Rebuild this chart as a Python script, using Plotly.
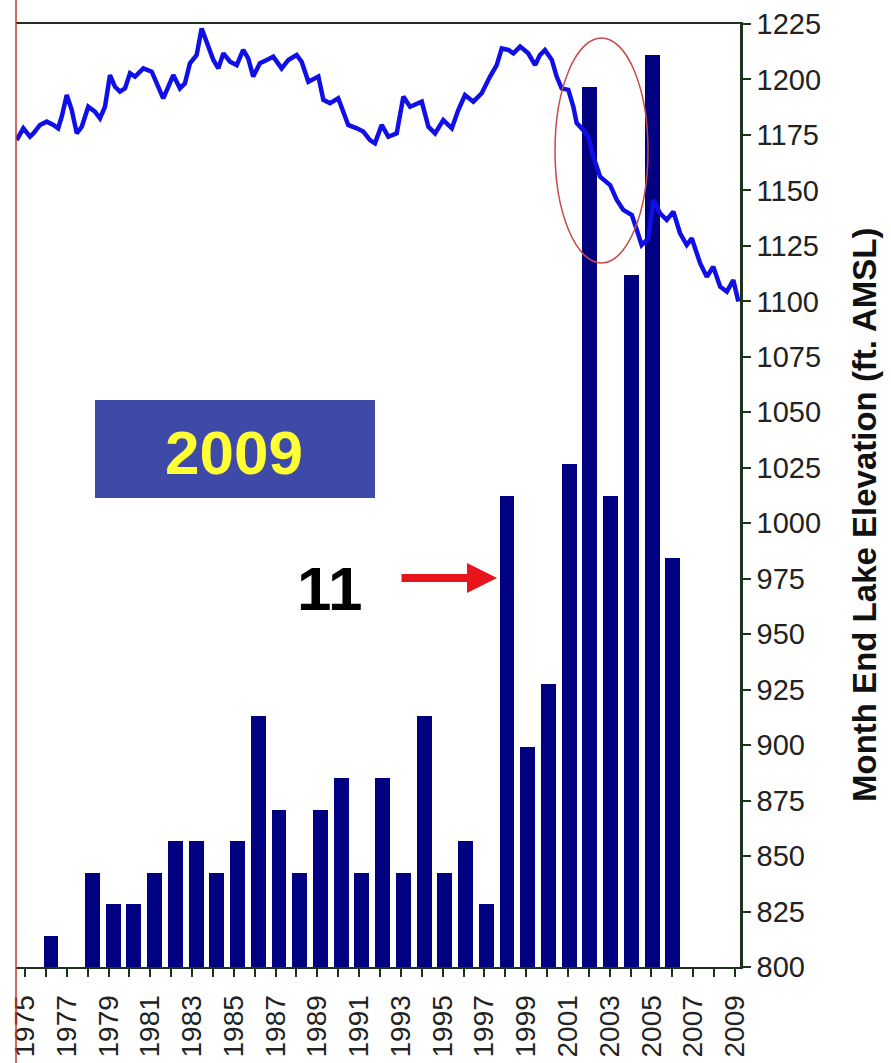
import plotly.graph_objects as go

# ---------------- data ----------------
bar_years = list(range(1975, 2007))
bar_counts = [0, 1, 0, 3, 2, 2, 3, 4, 4, 3, 4, 8, 5, 3, 5, 6,
              3, 6, 3, 8, 3, 4, 2, 15, 7, 9, 16, 28, 15, 22, 29, 13]

line_years = [1974.60, 1974.92, 1975.24, 1975.40, 1975.72, 1976.04, 1976.36, 1976.59,
              1976.76, 1977.00, 1977.24, 1977.48, 1977.72, 1978.03, 1978.35, 1978.59,
              1978.83, 1979.07, 1979.31, 1979.55, 1979.79, 1980.03, 1980.27, 1980.67,
              1981.07, 1981.31, 1981.62, 1981.86, 1982.10, 1982.42, 1982.66, 1982.90,
              1983.22, 1983.46, 1983.70, 1984.02, 1984.26, 1984.50, 1984.82, 1985.14,
              1985.45, 1985.69, 1985.93, 1986.25, 1986.58, 1986.89, 1987.29, 1987.61,
              1988.01, 1988.25, 1988.57, 1988.89, 1989.05, 1989.29, 1989.61, 1990.00,
              1990.24, 1990.48, 1990.89, 1991.20, 1991.52, 1991.76, 1992.08, 1992.40,
              1992.80, 1993.12, 1993.44, 1994.00, 1994.32, 1994.64, 1995.03, 1995.11,
              1995.44, 1995.75, 1996.07, 1996.47, 1996.87, 1997.27, 1997.59, 1997.83,
              1998.15, 1998.39, 1998.71, 1999.10, 1999.43, 1999.66, 1999.90, 2000.23,
              2000.46, 2000.70, 2001.02, 2001.26, 2001.42, 2001.74, 2001.98, 2002.22,
              2002.54, 2003.02, 2003.34, 2003.65, 2004.06, 2004.30, 2004.53, 2004.85,
              2005.09, 2005.41, 2005.73, 2006.05, 2006.37, 2006.69, 2006.93, 2007.33,
              2007.65, 2007.96, 2008.29, 2008.61, 2008.92, 2009.16]
line_elev = [1172.7, 1178.0, 1174.2, 1175.7, 1179.5, 1181.0, 1179.5, 1178.0,
             1183.2, 1193.0, 1186.2, 1175.7, 1178.7, 1187.7, 1185.5, 1182.5,
             1187.7, 1202.0, 1196.7, 1194.5, 1196.0, 1202.8, 1201.3, 1205.0,
             1203.5, 1198.3, 1191.5, 1196.7, 1202.0, 1196.0, 1198.3, 1207.3,
             1211.0, 1223.0, 1217.0, 1208.8, 1205.0, 1211.8, 1208.0, 1206.5,
             1213.3, 1209.5, 1201.3, 1207.3, 1208.8, 1210.3, 1205.0, 1208.8,
             1211.0, 1208.0, 1199.0, 1200.5, 1201.3, 1190.8, 1189.3, 1191.5,
             1185.5, 1179.5, 1178.0, 1176.5, 1172.7, 1171.2, 1179.5, 1174.2,
             1175.7, 1192.3, 1187.7, 1190.0, 1178.7, 1175.7, 1181.7, 1181.0,
             1178.0, 1186.2, 1193.0, 1190.0, 1193.8, 1201.3, 1206.5, 1214.0,
             1213.3, 1211.8, 1214.8, 1211.8, 1206.5, 1211.0, 1213.3, 1208.8,
             1201.3, 1196.0, 1195.3, 1187.7, 1180.3, 1177.2, 1174.2, 1165.2,
             1156.2, 1152.4, 1145.7, 1141.2, 1138.9, 1132.2, 1125.4, 1128.4,
             1145.7, 1139.7, 1136.7, 1140.4, 1130.7, 1125.4, 1128.4, 1117.2,
             1111.1, 1115.6, 1106.6, 1104.4, 1109.6, 1099.9]

axis_years = list(range(1975, 2010))
axis_labels = [str(y) if y % 2 == 1 else "" for y in axis_years]
elev_ticks = list(range(800, 1226, 25))

FONT = "Liberation Sans, Arial, sans-serif"
AXC = "#1c331c"

fig = go.Figure()
fig.add_trace(go.Bar(x=bar_years, y=bar_counts, xaxis="x", yaxis="y",
                     marker=dict(color="#000080", line=dict(width=0)),
                     width=0.72, showlegend=False))
fig.add_trace(go.Scatter(x=line_years, y=line_elev, xaxis="x2", yaxis="y2",
                         mode="lines", line=dict(color="#1010e6", width=4.5),
                         showlegend=False))

fig.update_layout(
    width=891, height=1063,
    margin=dict(l=16, r=151, t=24, b=96, autoexpand=False),
    paper_bgcolor="white", plot_bgcolor="white",
    font=dict(family=FONT, color="#222222"),
    bargap=0,
    xaxis=dict(range=[1974.31, 2009.24], visible=False, fixedrange=True),
    yaxis=dict(range=[0, 30], visible=False, fixedrange=True),
    xaxis2=dict(overlaying="x", anchor="y2", side="bottom",
                range=[1974.57, 2009.24], tickvals=axis_years, ticktext=axis_labels,
                tickangle=-90, ticks="outside", ticklen=8, tickwidth=1.5,
                tickcolor=AXC, showline=True, linecolor=AXC, linewidth=2,
                mirror=True, showgrid=False, zeroline=False,
                tickfont=dict(size=28, color="#222222", family=FONT),
                ticklabelstandoff=7, automargin=False),
    yaxis2=dict(overlaying="y", anchor="x2", side="right",
                range=[800, 1225], tickvals=elev_ticks,
                ticks="outside", ticklen=8, tickwidth=1.5, tickcolor=AXC,
                showline=True, linecolor=AXC, linewidth=2.5,
                showgrid=False, zeroline=False,
                tickfont=dict(size=29, color="#222222", family=FONT),
                automargin=False),
)

W, H = 724.0, 943.0
def px(x):
    return (x - 16) / W
def py(y):
    return (967 - y) / H

shapes = [
    # red left edge line
    dict(type="line", xref="paper", yref="paper", x0=0, x1=0, y0=py(1063), y1=py(0),
         line=dict(color="#c0392b", width=1.5)),
    # 2009 box
    dict(type="rect", xref="paper", yref="paper", x0=px(95), x1=px(375), y0=py(498), y1=py(400),
         fillcolor="#3f4aa8", line=dict(width=0), layer="above"),
    # red ellipse
    dict(type="circle", xref="paper", yref="paper", x0=px(555), x1=px(648), y0=py(263), y1=py(38),
         line=dict(color="#c84a4a", width=1.5), layer="above"),
]
fig.update_layout(shapes=shapes)

fig.add_annotation(xref="paper", yref="paper", x=px(234), y=py(452), text="<b>2009</b>",
                   xanchor="center", yanchor="middle",
                   showarrow=False, font=dict(size=62, color="#ffff33", family=FONT))
fig.add_annotation(xref="paper", yref="paper", x=px(330), y=py(588), text="<b>11</b>",
                   xanchor="center", yanchor="middle",
                   showarrow=False, font=dict(size=62, color="#000000", family=FONT))
fig.add_annotation(xref="paper", yref="paper", x=px(497), y=py(578), text="",
                   showarrow=True, ax=-97, ay=0, arrowhead=2, arrowwidth=8, arrowsize=0.75,
                   arrowcolor="#e8141b", standoff=0, startstandoff=0)
fig.add_annotation(xref="paper", yref="paper", x=px(864), y=py(515),
                   xanchor="center", yanchor="middle",
                   text="<b>Month End Lake Elevation (ft. AMSL)</b>", textangle=-90,
                   showarrow=False, font=dict(size=33, color="#111111", family=FONT))

fig.write_html("out.html", config={"displayModeBar": False},
               post_script="document.body.style.margin='0px';")
